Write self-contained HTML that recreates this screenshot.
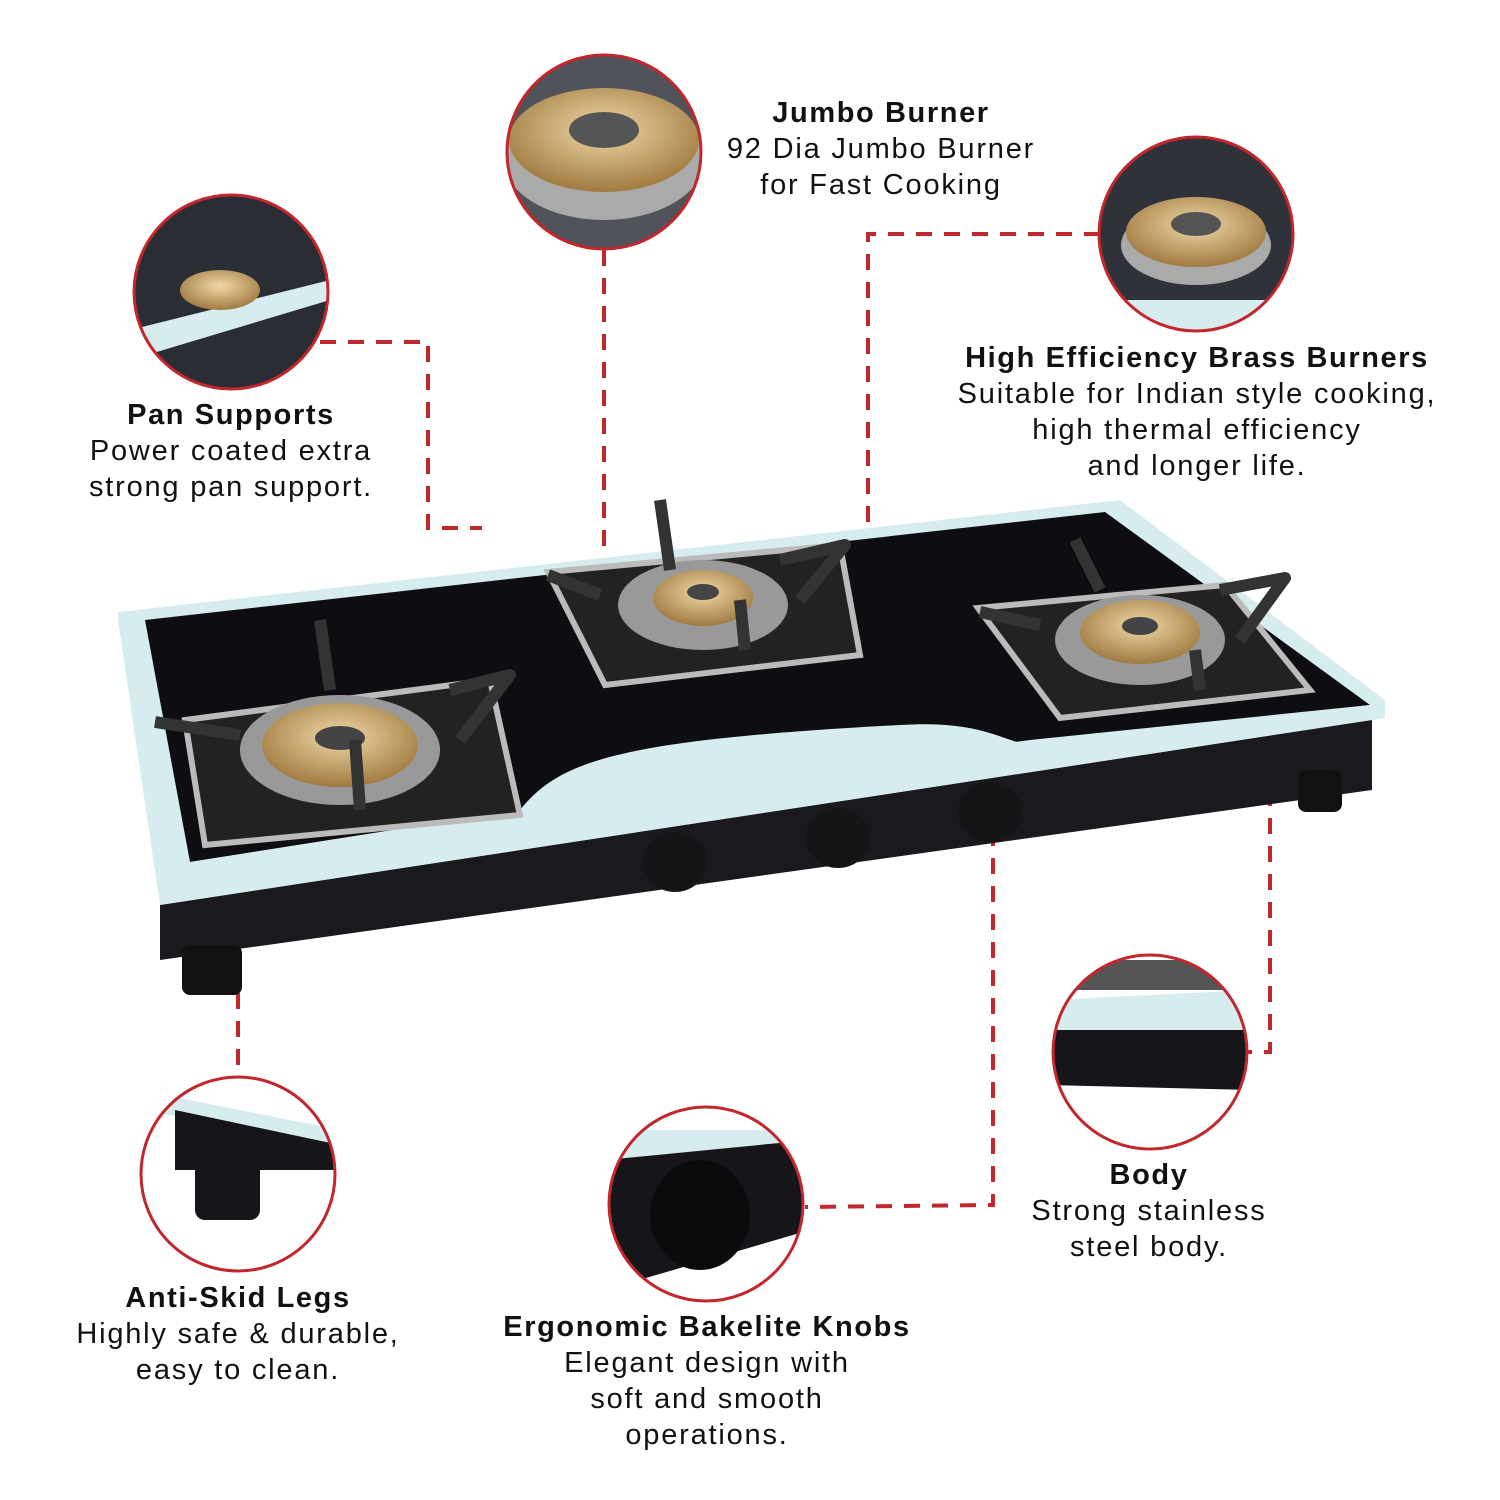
<!DOCTYPE html>
<html><head><meta charset="utf-8"><style>
html,body{margin:0;padding:0;background:#fff;}
body{width:1500px;height:1500px;position:relative;overflow:hidden;font-family:"Liberation Sans",sans-serif;color:#111;}
.t{position:absolute;text-align:center;font-size:29px;line-height:36px;letter-spacing:1.8px;transform:translateX(-50%);white-space:nowrap;}
.t b{font-size:29px;letter-spacing:1.6px;}
</style></head><body>
<svg width="1500" height="1500" style="position:absolute;left:0;top:0">
<defs>
<radialGradient id="brass" cx="50%" cy="40%" r="60%"><stop offset="0" stop-color="#f0d9a8"/><stop offset="1" stop-color="#a07a40"/></radialGradient>
<clipPath id="c1"><circle cx="231" cy="292" r="96"/></clipPath>
<clipPath id="c2"><circle cx="604" cy="152" r="96"/></clipPath>
<clipPath id="c3"><circle cx="1196" cy="234" r="96"/></clipPath>
<clipPath id="c4"><circle cx="1150" cy="1052" r="96"/></clipPath>
<clipPath id="c5"><circle cx="706" cy="1204" r="96"/></clipPath>
<clipPath id="c6"><circle cx="238" cy="1174" r="96"/></clipPath>
</defs>
<g stroke="#c1272d" stroke-width="4" stroke-dasharray="16,12" fill="none">
<polyline points="320,342 428,342 428,528 482,528"/>
<polyline points="604,250 604,690"/>
<polyline points="1100,234 868,234 868,555"/>
<polyline points="1270,762 1270,1052 1248,1052"/>
<polyline points="993,830 993,1205 805,1207"/>
<polyline points="213,990 238,990 238,1078"/>
</g>
<polygon points="160,900 1372,718 1372,790 160,960" fill="#1a1a1e"/>
<rect x="182" y="945" width="60" height="50" rx="8" fill="#111"/>
<rect x="1298" y="770" width="44" height="42" rx="8" fill="#111"/>
<polygon points="118,612 1120,500 1385,700 1385,718 160,905 118,620" fill="#d6ecee"/>
<polygon points="145,620 1105,512 1370,705 1030,740 520,810 190,862" fill="#0d0d12"/>
<path d="M520,810 C560,760 620,740 900,725 C980,720 1000,740 1030,745 L1370,705 L1385,718 L160,905 L190,862 Z" fill="#d6ecee"/>
<g fill="#151518">
<ellipse cx="675" cy="862" rx="32" ry="30"/><ellipse cx="838" cy="838" rx="32" ry="30"/><ellipse cx="990" cy="812" rx="32" ry="30"/>
</g>
<g>
<polygon points="185,720 490,680 520,815 205,845" fill="#222" stroke="#bbb" stroke-width="6"/>
<ellipse cx="340" cy="750" rx="100" ry="55" fill="#999"/><ellipse cx="340" cy="745" rx="78" ry="42" fill="url(#brass)"/><ellipse cx="340" cy="738" rx="25" ry="12" fill="#444"/>
<polygon points="548,572 840,545 860,655 605,685" fill="#222" stroke="#bbb" stroke-width="6"/>
<ellipse cx="703" cy="605" rx="85" ry="45" fill="#999"/><ellipse cx="703" cy="598" rx="50" ry="28" fill="url(#brass)"/><ellipse cx="703" cy="592" rx="16" ry="8" fill="#444"/>
<polygon points="978,608 1225,585 1310,690 1060,718" fill="#222" stroke="#bbb" stroke-width="6"/>
<ellipse cx="1140" cy="640" rx="85" ry="45" fill="#999"/><ellipse cx="1140" cy="632" rx="60" ry="32" fill="url(#brass)"/><ellipse cx="1140" cy="626" rx="18" ry="9" fill="#444"/>
</g>
<g stroke="#333" stroke-width="12" fill="none" stroke-linejoin="round">
<polyline points="155,722 240,735"/><polyline points="320,620 330,690"/><polyline points="450,690 510,675 460,740"/><polyline points="355,740 360,810"/>
<polyline points="548,575 600,595"/><polyline points="660,500 670,570"/><polyline points="780,560 845,545 800,600"/><polyline points="740,600 745,650"/>
<polyline points="980,612 1040,625"/><polyline points="1075,540 1100,590"/><polyline points="1220,590 1285,578 1240,640"/><polyline points="1195,650 1200,690"/>
</g>
<g clip-path="url(#c1)"><rect x="130" y="190" width="210" height="210" fill="#2a2d33"/><polygon points="130,330 330,280 330,300 130,360" fill="#d6ecee"/><ellipse cx="220" cy="290" rx="40" ry="20" fill="url(#brass)"/></g>
<g clip-path="url(#c2)"><rect x="500" y="50" width="210" height="210" fill="#50535a"/><ellipse cx="604" cy="160" rx="100" ry="60" fill="#aaa"/><ellipse cx="604" cy="140" rx="95" ry="52" fill="url(#brass)"/><ellipse cx="604" cy="130" rx="35" ry="18" fill="#555"/></g>
<g clip-path="url(#c3)"><rect x="1095" y="130" width="210" height="210" fill="#2f3238"/><rect x="1095" y="300" width="210" height="40" fill="#d6ecee"/><ellipse cx="1196" cy="245" rx="75" ry="40" fill="#aaa"/><ellipse cx="1196" cy="232" rx="70" ry="35" fill="url(#brass)"/><ellipse cx="1196" cy="224" rx="25" ry="12" fill="#555"/></g>
<g clip-path="url(#c4)"><rect x="1050" y="950" width="210" height="210" fill="#fff"/><rect x="1050" y="960" width="210" height="30" fill="#555"/><polygon points="1050,1000 1250,990 1250,1030 1050,1030" fill="#d6ecee"/><polygon points="1050,1030 1250,1030 1250,1090 1050,1085" fill="#16161a"/></g>
<g clip-path="url(#c5)"><rect x="605" y="1100" width="210" height="210" fill="#fff"/><polygon points="605,1130 810,1130 810,1150 605,1170" fill="#d6ecee"/><polygon points="605,1160 810,1140 810,1230 605,1290" fill="#16161a"/><ellipse cx="700" cy="1215" rx="50" ry="55" fill="#0b0b0d"/></g>
<g clip-path="url(#c6)"><rect x="140" y="1075" width="210" height="210" fill="#fff"/><polygon points="140,1090 340,1130 340,1145 140,1110" fill="#d6ecee"/><polygon points="175,1110 340,1145 340,1170 175,1170" fill="#16161a"/><rect x="195" y="1160" width="65" height="60" rx="10" fill="#16161a"/></g>
<g fill="none" stroke="#c1272d" stroke-width="3">
<circle cx="231" cy="292" r="97"/><circle cx="604" cy="152" r="97"/><circle cx="1196" cy="234" r="97"/>
<circle cx="1150" cy="1052" r="97"/><circle cx="706" cy="1204" r="97"/><circle cx="238" cy="1174" r="97"/>
</g>
</svg>
<div class="t" style="left:881px;top:95px"><b>Jumbo Burner</b><br>92 Dia Jumbo Burner<br>for Fast Cooking</div>
<div class="t" style="left:231px;top:397px"><b>Pan Supports</b><br>Power coated extra<br>strong pan support.</div>
<div class="t" style="left:1197px;top:340px"><b>High Efficiency Brass Burners</b><br>Suitable for Indian style cooking,<br>high thermal efficiency<br>and longer life.</div>
<div class="t" style="left:1149px;top:1157px"><b>Body</b><br>Strong stainless<br>steel body.</div>
<div class="t" style="left:238px;top:1280px"><b>Anti-Skid Legs</b><br>Highly safe &amp; durable,<br>easy to clean.</div>
<div class="t" style="left:707px;top:1309px"><b>Ergonomic Bakelite Knobs</b><br>Elegant design with<br>soft and smooth<br>operations.</div>
</body></html>
